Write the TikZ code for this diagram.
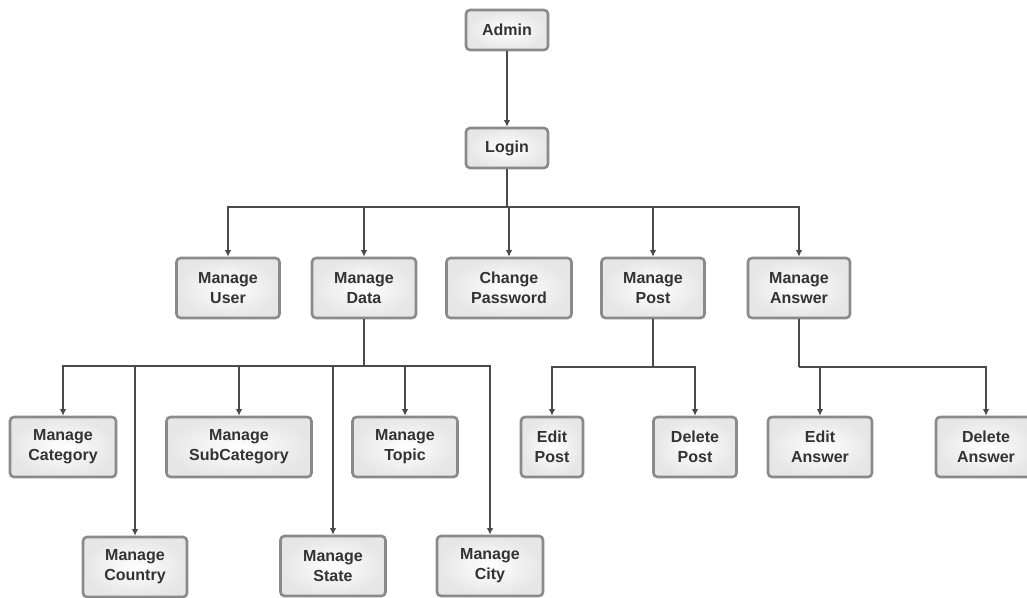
\documentclass[tikz,border=0pt]{standalone}
\usepackage{fontspec}
\setmainfont{Liberation Sans}
\usepackage{tikz}
\usetikzlibrary{arrows.meta}
\definecolor{boxline}{HTML}{8A8A8A}
\definecolor{boxfill}{HTML}{E6E6E6}
\definecolor{wire}{HTML}{4A4A4A}
\tikzset{
  module/.style={draw=boxline,line width=2.6pt,rounded corners=4pt,inner color=white,outer color=boxfill,
    minimum height=60pt,align=center,text=black!80,font=\bfseries\fontsize{16}{20}\selectfont},
  wiring/.style={draw=wire,line width=1.4pt},
  tip/.style={wiring,-{Latex[length=6.5pt,width=6.5pt]}}
}
\begin{document}
\begin{tikzpicture}[x=1pt,y=-1pt]
    \useasboundingbox (0,0) rectangle (1027,597);
    \node[module,minimum width=82pt,minimum height=40pt] (admin) at (507,30) {Admin};
    \node[module,minimum width=82pt,minimum height=40pt] (login) at (507,148) {Login};
    \node[module,minimum width=103pt] (user) at (228,288) {Manage\\User};
    \node[module,minimum width=104pt] (data) at (364,288) {Manage\\Data};
    \node[module,minimum width=125pt] (passwd) at (509,288) {Change\\Password};
    \node[module,minimum width=103pt] (post) at (653,288) {Manage\\Post};
    \node[module,minimum width=102pt] (answer) at (799,288) {Manage\\Answer};
    \node[module,minimum width=106pt] (category) at (63,447) {Manage\\Category};
    \node[module,minimum width=145pt] (subcat) at (239,447) {Manage\\SubCategory};
    \node[module,minimum width=105pt] (topic) at (405,447) {Manage\\Topic};
    \node[module,minimum width=104pt] (country) at (135,567) {Manage\\Country};
    \node[module,minimum width=105pt] (state) at (333,566) {Manage\\State};
    \node[module,minimum width=106pt] (city) at (490,566) {Manage\\City};
    \node[module,minimum width=62pt] (editpost) at (552,447) {Edit\\Post};
    \node[module,minimum width=83pt] (delpost) at (695,447) {Delete\\Post};
    \node[module,minimum width=104pt] (editans) at (820,447) {Edit\\Answer};
    \node[module,minimum width=100pt] (delans) at (986,447) {Delete\\Answer};
    \coordinate (topbar) at (507,207);
    \coordinate (databar) at (364,366);
    \coordinate (postbar) at (653,367);
    \coordinate (ansbar) at (799,367);
    \draw[tip] (admin) -- (login);
    \draw[wiring] (login) -- (topbar);
    \foreach \n in {user,data,passwd,post,answer}
      \draw[tip] (topbar) -| (\n);
    \draw[wiring] (data) -- (databar);
    \foreach \n in {category,subcat,topic,country,state,city}
      \draw[tip] (databar) -| (\n);
    \draw[wiring] (post) -- (postbar);
    \foreach \n in {editpost,delpost}
      \draw[tip] (postbar) -| (\n);
    \draw[wiring] (answer) -- (ansbar);
    \foreach \n in {editans,delans}
      \draw[tip] (ansbar) -| (\n);
\end{tikzpicture}
\end{document}
